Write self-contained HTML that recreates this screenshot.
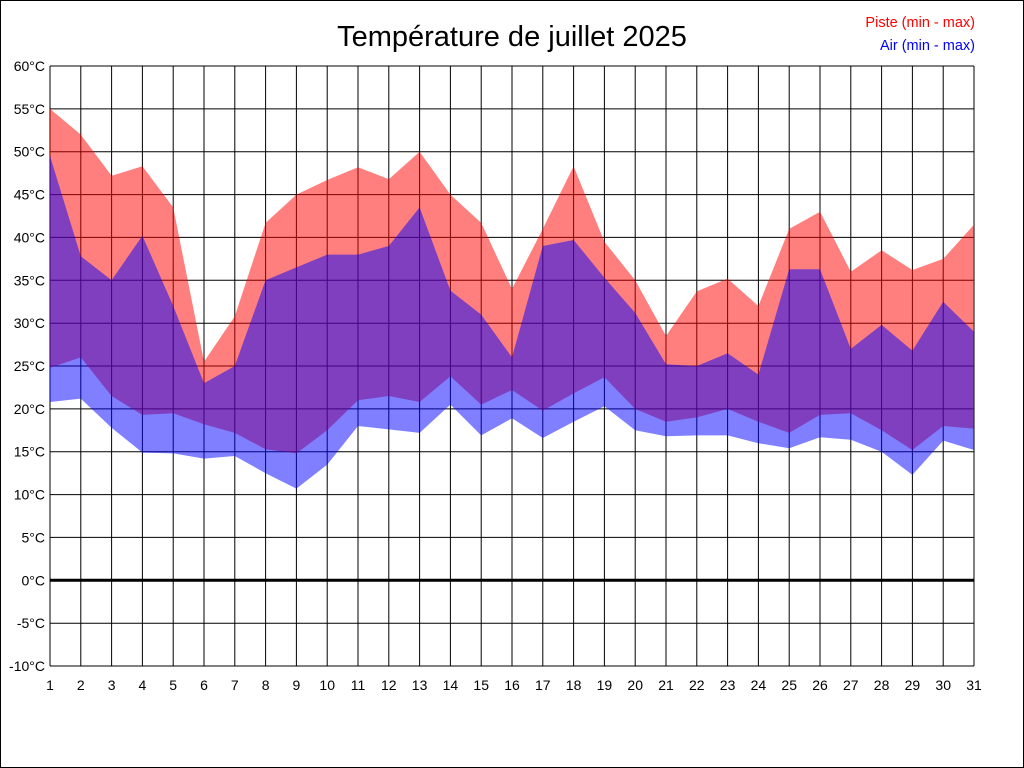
<!DOCTYPE html>
<html><head><meta charset="utf-8"><style>
html,body{margin:0;padding:0;background:#fff}
svg{display:block}
</style></head><body>
<svg id="s" width="1024" height="768" xmlns="http://www.w3.org/2000/svg" font-family="Liberation Sans, sans-serif">
<rect x="0.5" y="0.5" width="1023" height="767" fill="#fff" stroke="#000"/>
<text x="512" y="46" font-size="29" text-anchor="middle">Température de juillet 2025</text>
<text x="975" y="27" font-size="14.5" text-anchor="end" fill="#ff0000">Piste (min - max)</text>
<text x="975" y="50" font-size="14.5" text-anchor="end" fill="#0000ff">Air (min - max)</text>
<g id="g"></g>
</svg>
<script>
var pmax=[55,52,47.2,48.3,43.5,25.5,30.8,41.7,45,46.7,48.2,46.8,50,45,41.7,34,41,48.3,39.5,35,28.5,33.7,35.2,32,41,43,36,38.5,36.2,37.5,41.5];
var amax=[49.5,37.8,35,40.2,32,23,25,35,36.5,38,38,39,43.5,33.8,31,26,39,39.7,35.3,31.2,25.2,25,26.5,24,36.3,36.3,27,29.8,26.8,32.5,29];
var pmin=[24.8,26,21.5,19.3,19.5,18.2,17.2,15.3,14.8,17.5,21,21.5,20.8,23.8,20.5,22.2,19.8,21.8,23.7,20,18.5,19,20,18.5,17.2,19.3,19.5,17.5,15.2,18,17.7];
var amin=[20.8,21.2,17.8,14.9,14.8,14.2,14.5,12.5,10.7,13.5,18,17.6,17.2,20.5,16.9,18.9,16.6,18.5,20.3,17.5,16.8,16.9,16.9,16,15.4,16.7,16.4,15,12.3,16.3,15.2];
function X(d){return 50+(d-1)*30.8}
function Y(t){return 580.3-t*8.5714}
var h='';
for(var t=-10;t<=60;t+=5){var y=Y(t).toFixed(1);h+='<line x1="50" x2="974" y1="'+y+'" y2="'+y+'" stroke="#000" stroke-width="1"/>';
h+='<text x="45" y="'+(Y(t)+5).toFixed(1)+'" font-size="14" text-anchor="end">'+t+'°C</text>';}
for(var d=1;d<=31;d++){var x=X(d).toFixed(1);h+='<line x1="'+x+'" x2="'+x+'" y1="66" y2="666" stroke="#000" stroke-width="1"/>';
h+='<text x="'+x+'" y="690" font-size="14" text-anchor="middle">'+d+'</text>';}
h+='<line x1="50" x2="974" y1="580.3" y2="580.3" stroke="#000" stroke-width="3"/>';
function poly(a,b,c){var p=[];for(var i=0;i<31;i++)p.push(X(i+1).toFixed(1)+','+Y(a[i]).toFixed(1));for(var i=30;i>=0;i--)p.push(X(i+1).toFixed(1)+','+Y(b[i]).toFixed(1));return '<polygon points="'+p.join(' ')+'" fill="'+c+'"/>';}
h+=poly(pmax,pmin,'rgba(255,0,0,0.5)');
h+=poly(amax,amin,'rgba(0,0,255,0.5)');
document.getElementById('g').innerHTML=h;
</script>
</body></html>
